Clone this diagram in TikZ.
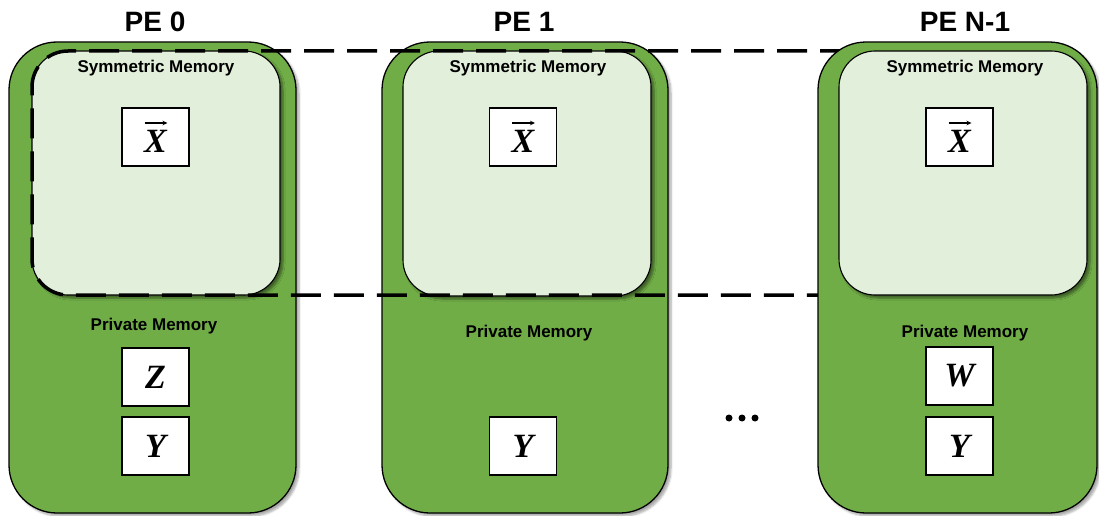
\documentclass[tikz,border=0pt]{standalone}
\usepackage{fontspec}
\setmainfont{Liberation Sans}
\newfontfamily\mathserif{Liberation Serif}
\usetikzlibrary{shadows.blur,arrows.meta}
\definecolor{pegreen}{HTML}{70AD47}
\definecolor{symfill}{HTML}{E2EFDA}
\tikzset{
  peouter/.style={draw=black, line width=1.3pt, fill=pegreen, rounded corners=48pt,
    blur shadow={shadow xshift=3pt, shadow yshift=-3pt, shadow blur steps=6, shadow opacity=35}},
  syminner/.style={draw=black, line width=1.1pt, fill=symfill, rounded corners=36pt,
    blur shadow={shadow xshift=3pt, shadow yshift=-3pt, shadow blur steps=6, shadow opacity=45}},
  varbox/.style={draw=black, line width=1.1pt, fill=white, minimum width=67pt, minimum height=58pt,
    inner sep=0pt, font=\mathserif\bfseries\itshape\fontsize{34}{34}\selectfont},
  letter/.style={inner sep=0pt, font=\mathserif\bfseries\itshape\fontsize{34}{34}\selectfont},
  petitle/.style={font=\bfseries\fontsize{28}{28}\selectfont, inner sep=0pt},
  memlabel/.style={font=\bfseries\fontsize{17}{17}\selectfont, inner sep=0pt},
  symline/.style={line width=3.5pt, dash pattern=on 30pt off 13pt, dash phase=13pt, rounded corners=36pt},
  vecarrow/.style={line width=1.1pt, -{Stealth[length=5pt,width=4.5pt]}},
  dotmark/.style={circle, fill=black, inner sep=0pt, minimum size=7pt}
}
\newcommand{\vecbox}[2]{%
  \node[varbox] (#1) at (#2) {};
  \node[letter] (#1t) at ([yshift=-4pt]#1.center) {X};
  \coordinate (#1a) at ([xshift=-11pt,yshift=14pt]#1.center);
  \coordinate (#1b) at ([xshift=12pt,yshift=14pt]#1.center);
  \draw[vecarrow] (#1a) -- (#1b);
}
\begin{document}
\begin{tikzpicture}[x=1pt,y=-1pt]
\useasboundingbox (0,0) rectangle (1099,516);
% PE 0
\draw[peouter] (9,42) rectangle (296,513);
\draw[syminner] (32,51) rectangle (280,295);
\node[petitle] (t0) at (155,22) {PE 0};
\node[memlabel] (s0) at (156,68) {Symmetric Memory};
\vecbox{x0}{155.5,137}
\node[memlabel] (p0) at (154,326) {Private Memory};
\node[varbox] (z0) at (155.5,377) {Z};
\node[varbox] (y0) at (155.5,446) {Y};
% PE 1
\draw[peouter] (382,42) rectangle (668,513);
\draw[syminner] (403,51) rectangle (651,296);
\node[petitle] (t1) at (524,22) {PE 1};
\node[memlabel] (s1) at (528,68) {Symmetric Memory};
\vecbox{x1}{523,137}
\node[memlabel] (p1) at (529,333) {Private Memory};
\node[varbox] (y1) at (523,446) {Y};
% symmetric region outline
\coordinate (dtr) at (880,51);
\coordinate (dbr) at (880,295);
\draw[symline] (dtr) -- (32,51) -- (32,295) -- (dbr);
% PE N-1
\draw[peouter] (818,42) rectangle (1097,513);
\draw[syminner] (839,51) rectangle (1087,295);
\node[petitle] (tn) at (965,22) {PE N-1};
\node[memlabel] (sn) at (965,68) {Symmetric Memory};
\vecbox{xn}{959.5,137}
\node[memlabel] (pn) at (965,333) {Private Memory};
\node[varbox] (wn) at (959.5,376) {W};
\node[varbox] (yn) at (959.5,446) {Y};
% dots
\node[dotmark] (d1) at (729,418) {};
\node[dotmark] (d2) at (742,418) {};
\node[dotmark] (d3) at (755,418) {};
\end{tikzpicture}
\end{document}
